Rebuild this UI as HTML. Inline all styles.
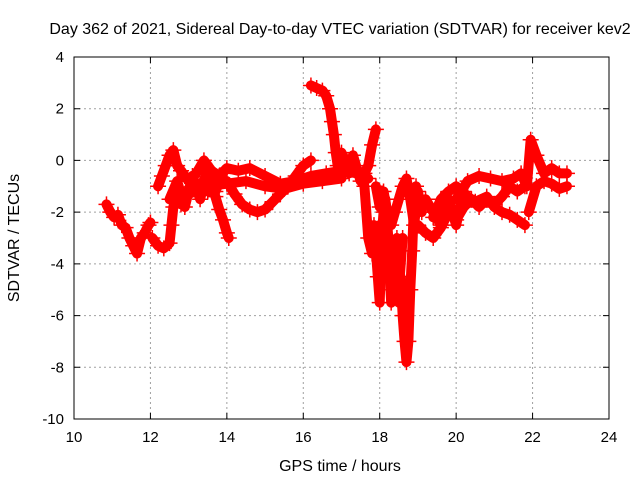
<!DOCTYPE html>
<html><head><meta charset="utf-8"><style>
body{margin:0;background:#fff}
svg{display:block;font-family:"Liberation Sans",sans-serif}
</style></head><body>
<svg id="chart" width="640" height="480" viewBox="0 0 640 480">
<rect width="640" height="480" fill="#fff"/>
<text x="340" y="34" font-size="16" text-anchor="middle">Day 362 of 2021, Sidereal Day-to-day VTEC variation (SDTVAR) for receiver kev2</text>
<text x="340" y="471" font-size="16" text-anchor="middle">GPS time / hours</text>
<text transform="translate(19,238) rotate(-90)" font-size="16" text-anchor="middle">SDTVAR / TECUs</text>
<g id="grid"></g>
<g id="ticks"></g>
<g id="marks"></g>
<rect x="74" y="57" width="535" height="362" fill="none" stroke="#000" stroke-width="1"/>
</svg>
<script>
const xTicks=[10,12,14,16,18,20,22,24];
const yTicks=[4,2,0,-2,-4,-6,-8,-10];
const t1=[10.85,10.95,11.05,11.15,11.25,11.35,11.45,11.55,11.65,11.75,11.85,11.95,12.0];
const v1=[-1.7,-2.0,-2.2,-2.1,-2.5,-2.6,-3.0,-3.3,-3.6,-3.0,-2.8,-2.5,-2.4];
const t2=[12.05,12.2,12.35,12.5,12.55,12.6,12.7,12.8,12.9,13.0,13.1,13.2,13.3,13.4,13.5,13.6,13.7,13.8,13.9,14.0,14.05];
const v2=[-3.0,-3.3,-3.4,-3.2,-2.5,-1.8,-1.5,-1.7,-1.3,-1.2,-1.0,-1.1,-0.9,-0.8,-1.2,-1.0,-1.4,-1.9,-2.3,-2.8,-3.0];
const t3=[12.2,12.3,12.4,12.5,12.6,12.7,12.8,12.9,13.0,13.2,13.4,13.6,13.8,14.0,14.3,14.6,15.0,15.4,15.8,16.2,16.6,17.0,17.4,17.7];
const v3=[-1.0,-0.6,-0.2,0.2,0.4,-0.2,-0.4,-0.6,-0.8,-0.5,0.0,-0.4,-0.6,-0.3,-0.4,-0.3,-0.6,-0.9,-0.8,-0.6,-0.5,-0.4,-0.5,-0.7];
const t4=[14.0,14.2,14.4,14.6,14.8,15.0,15.2,15.4,15.6,15.8,16.0,16.2];
const v4=[-0.8,-1.3,-1.7,-1.9,-2.0,-1.9,-1.6,-1.3,-1.0,-0.6,-0.2,0.0];
const t5=[13.0,13.5,14.0,14.5,15.0,15.5,16.0,16.5,17.0];
const v5=[-1.3,-1.0,-0.9,-0.8,-1.0,-1.1,-0.9,-0.8,-0.7];
const t6=[16.2,16.35,16.5,16.6,16.7,16.75,16.8,16.85,16.9,17.0,17.1,17.2,17.3,17.4,17.5,17.6,17.7,17.8,17.9];
const v6=[2.9,2.8,2.7,2.5,2.0,1.5,1.0,0.3,-0.2,0.3,0.0,-0.5,0.2,-0.3,-0.8,-0.5,-0.2,0.6,1.2];
const t7=[17.6,17.7,17.8,17.85,17.9,17.95,18.0,18.05,18.1,18.15,18.2,18.25,18.3,18.35,18.4,18.45,18.5,18.55,18.6,18.65,18.7,18.75,18.8,18.85,18.9,18.95,19.0];
const v7=[-1.0,-3.0,-3.6,-2.5,-3.5,-4.5,-5.5,-3.0,-2.0,-1.5,-2.5,-3.5,-4.5,-5.0,-4.0,-3.0,-5.5,-4.5,-6.0,-7.0,-7.8,-7.0,-5.0,-3.5,-1.5,-1.0,-2.0];
const t8=[17.9,18.0,18.1,18.2,18.3,18.4,18.5,18.6,18.7,18.8,18.9,19.0,19.1];
const v8=[-1.0,-1.8,-1.2,-2.0,-2.5,-2.0,-1.5,-1.0,-0.7,-1.5,-2.5,-1.2,-2.0];
const t9=[19.0,19.2,19.4,19.6,19.8,20.0,20.2,20.4,20.6,20.8,21.0,21.2,21.4,21.6,21.8];
const v9=[-2.5,-2.8,-3.0,-2.6,-2.0,-2.3,-1.8,-1.5,-1.8,-1.5,-1.7,-1.4,-1.0,-1.2,-1.0];
const t10=[19.4,19.6,19.8,20.0,20.2,20.5,20.8,21.0,21.2,21.4,21.6,21.8];
const v10=[-2.2,-1.5,-1.2,-1.0,-1.3,-1.6,-1.4,-1.8,-2.0,-2.1,-2.3,-2.5];
const t11=[20.0,20.3,20.6,20.9,21.2,21.5,21.7,21.85,21.95,22.1,22.3,22.5,22.7,22.9];
const v11=[-1.5,-0.8,-0.6,-0.7,-0.8,-0.7,-0.5,-1.0,0.8,0.2,-0.5,-0.3,-0.5,-0.5];
const t12=[21.9,22.1,22.3,22.5,22.7,22.9];
const v12=[-2.0,-1.0,-0.8,-0.9,-1.1,-1.0];
const t13=[12.5,12.7,12.9,13.1,13.3,13.5,13.7,13.9];
const v13=[-1.5,-0.8,-1.8,-0.6,-1.5,-0.3,-1.2,-0.5];
const t14=[18.0,18.1,18.2,18.3,18.4,18.5,18.6];
const v14=[-2.5,-4.0,-3.0,-5.5,-3.5,-5.0,-3.0];
const t15=[19.2,19.4,19.6,19.8,20.0,20.2];
const v15=[-1.5,-2.0,-2.5,-1.5,-2.5,-1.2];

const NS='http://www.w3.org/2000/svg';
const X0=74,X1=609,Y0=419,Y1=57;
function xs(t){return X0+(t-10)/(24-10)*(X1-X0);}
function ys(v){return Y0-(v+10)/(4+10)*(Y0-Y1);}
const grid=document.getElementById('grid'),ticks=document.getElementById('ticks'),marks=document.getElementById('marks');
function mk(tag,attrs,parent){const e=document.createElementNS(NS,tag);for(const k in attrs)e.setAttribute(k,attrs[k]);parent.appendChild(e);return e;}
xTicks.forEach(t=>{const x=xs(t);
 if(t>10&&t<24){const g=mk('line',{x1:x,x2:x,y1:Y1,y2:Y0,stroke:'#a0a0a0','stroke-dasharray':'2,3'},grid);
 
 }
 const tk=mk('path',{d:`M${x},${Y0}v-6M${x},${Y1}v6`,stroke:'#000'},ticks);
 
 
 const l=mk('text',{x:x,y:Y0+23,'font-size':15,'text-anchor':'middle'},ticks);l.textContent=t;
 
 });
yTicks.forEach(v=>{const y=ys(v);
 if(v>-10&&v<4){const g=mk('line',{x1:X0,x2:X1,y1:y,y2:y,stroke:'#a0a0a0','stroke-dasharray':'2,3'},grid);
 
 }
 const tk=mk('path',{d:`M${X0},${y}h6M${X1},${y}h-6`,stroke:'#000'},ticks);
 
 
 const l=mk('text',{x:X0-10,y:y+5,'font-size':15,'text-anchor':'end'},ticks);l.textContent=v;
 
 });
const series=[[t1,v1],[t2,v2],[t3,v3],[t4,v4],[t5,v5],[t6,v6],[t7,v7],[t8,v8],[t9,v9],[t10,v10],[t11,v11],[t12,v12],[t13,v13],[t14,v14],[t15,v15]];
series.forEach((s,i)=>{const [ts,vs]=s;
 const pts=ts.map((t,j)=>xs(t)+','+ys(vs[j])).join(' ');
 const pl=mk('polyline',{points:pts,fill:'none',stroke:'#ff0000','stroke-width':10,'stroke-linejoin':'round','stroke-linecap':'round'},marks);
 
 
 ts.forEach((t,j)=>{const x=xs(t),y=ys(vs[j]);
  const p=mk('path',{d:`M${x-8},${y}h16M${x},${y-8}v16`,stroke:'#ff0000','stroke-width':1.5},marks);
  
  });
});
</script>
</body></html>
